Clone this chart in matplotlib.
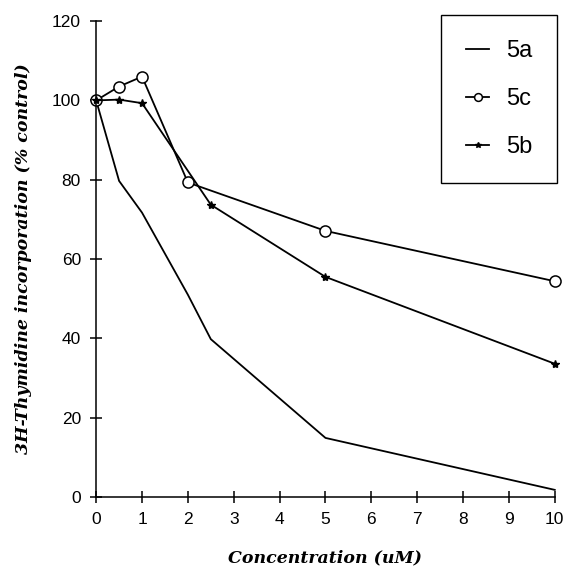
import numpy as np
import matplotlib.pyplot as plt

# data
xA = [0, 0.5, 1, 2, 2.5, 5, 10]
yA = [100, 79.7, 71.7, 51, 39.8, 14.9, 1.8]
xC = [0, 0.5, 1, 2, 5, 10]
yC = [100, 103.5, 106, 79.3, 67.1, 54.4]
xB = [0, 0.5, 1, 2.5, 5, 10]
yB = [100, 100.2, 99.3, 73.7, 55.5, 33.6]

xTicks = np.arange(0, 11, 1)
yTicks = np.arange(0, 121, 20)

fig = plt.figure(figsize=(5.69, 5.79), dpi=100)
ax = fig.add_axes([0.169, 0.1416, 0.806, 0.822])

lineA, = ax.plot(xA, yA, color='black', lw=1.3, clip_on=False, label='5a')
lineC, = ax.plot(xC, yC, color='black', lw=1.3, marker='o', ms=8,
                 mfc='white', mec='black', mew=1.1, clip_on=False, label='5c')
lineB, = ax.plot(xB, yB, color='black', lw=1.3, marker='*', ms=6,
                 clip_on=False, label='5b')

ax.set_xlim(0, 10)
ax.set_ylim(0, 120)
ax.set_xticks(xTicks)
ax.set_yticks(yTicks)
ax.spines['top'].set_visible(False)
ax.spines['right'].set_visible(False)
for s in ['left', 'bottom']:
    ax.spines[s].set_linewidth(1.1)
ax.tick_params(direction='inout', length=8, width=1.1, labelsize=12.5,
               pad=7)
for lab in ax.get_xticklabels() + ax.get_yticklabels():
    lab.set_fontfamily('Liberation Sans')

labFont = dict(family='DejaVu Serif', style='italic', weight='bold', size=12.5)
ax.set_xlabel('Concentration (uM)', fontdict=labFont, labelpad=16)
ax.set_ylabel('3H-Thymidine incorporation (% control)', fontdict=labFont,
              labelpad=14)

leg = ax.legend(handles=[lineA, lineC, lineB], loc='upper right',
                bbox_to_anchor=(1.005, 1.012), fancybox=False,
                frameon=True, edgecolor='black', framealpha=1,
                prop={'family': 'Liberation Sans', 'size': 17},
                handlelength=1.0, handletextpad=0.7, labelspacing=1.1,
                borderpad=1.05, borderaxespad=0, markerscale=0.7)
leg.get_frame().set_linewidth(1.0)

fig.savefig('out.png', dpi=100)
